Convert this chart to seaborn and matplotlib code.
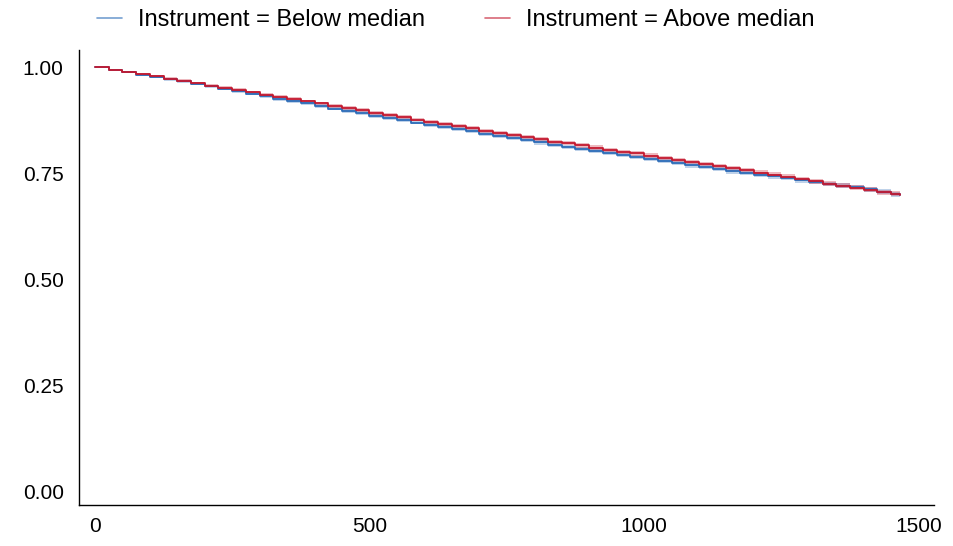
import numpy as np
import pandas as pd
import matplotlib
matplotlib.use("Agg")
import matplotlib.pyplot as plt
import seaborn as sns

# survival estimates (days, survival probability)
time = [0, 25, 50, 75, 100, 125, 150, 175, 200, 225, 250, 275, 300, 325, 350,
        375, 400, 425, 450, 475, 500, 525, 550, 575, 600, 625, 650, 675, 700, 725,
        750, 775, 800, 825, 850, 875, 900, 925, 950, 975, 1000, 1025, 1050, 1075,
        1100, 1125, 1150, 1175, 1200, 1225, 1250, 1275, 1300, 1325, 1350, 1375,
        1400, 1425, 1450, 1466]

surv_below = [1.000, 0.995, 0.989, 0.983, 0.978, 0.972, 0.967, 0.961, 0.955, 0.950,
              0.944, 0.938, 0.932, 0.926, 0.920, 0.915, 0.909, 0.903, 0.898, 0.892,
              0.886, 0.881, 0.876, 0.870, 0.865, 0.860, 0.854, 0.849, 0.844, 0.839,
              0.834, 0.829, 0.823, 0.818, 0.813, 0.808, 0.803, 0.798, 0.793, 0.789,
              0.784, 0.779, 0.774, 0.769, 0.765, 0.760, 0.755, 0.751, 0.747, 0.743,
              0.739, 0.734, 0.730, 0.725, 0.721, 0.718, 0.713, 0.707, 0.701, 0.699]

surv_above = [1.000, 0.995, 0.989, 0.984, 0.979, 0.973, 0.968, 0.963, 0.957, 0.952,
              0.947, 0.941, 0.936, 0.931, 0.925, 0.920, 0.915, 0.909, 0.904, 0.899,
              0.893, 0.888, 0.883, 0.877, 0.872, 0.867, 0.861, 0.856, 0.851, 0.846,
              0.840, 0.835, 0.830, 0.825, 0.821, 0.816, 0.811, 0.806, 0.801, 0.797,
              0.792, 0.787, 0.782, 0.777, 0.772, 0.767, 0.762, 0.757, 0.752, 0.747,
              0.742, 0.737, 0.731, 0.726, 0.721, 0.716, 0.711, 0.706, 0.702, 0.699]

# half width of the confidence band
band_half = [0.000, 0.002, 0.0025, 0.003, 0.0032, 0.0034, 0.0036, 0.0037, 0.0038, 0.0039,
             0.004, 0.004, 0.0041, 0.0041, 0.0042, 0.0042, 0.0043, 0.0043, 0.0044, 0.0044,
             0.0045, 0.0045, 0.0045, 0.0046, 0.0046, 0.0046, 0.0047, 0.0047, 0.0047, 0.0048,
             0.0048, 0.0048, 0.0049, 0.0049, 0.0049, 0.005, 0.005, 0.005, 0.005, 0.0051,
             0.0051, 0.0051, 0.0052, 0.0052, 0.0052, 0.0053, 0.0053, 0.0053, 0.0054, 0.0054,
             0.0055, 0.0055, 0.0056, 0.0056, 0.0057, 0.0058, 0.0058, 0.0059, 0.006, 0.006]

groups = ["Instrument = Below median", "Instrument = Above median"]
colors = ["#2b6cb8", "#c4182e"]

df = pd.concat([
    pd.DataFrame({"time": time, "surv": surv_below, "half": band_half, "strata": groups[0]}),
    pd.DataFrame({"time": time, "surv": surv_above, "half": band_half, "strata": groups[1]}),
])

sns.set_style("white")
plt.rcParams["font.family"] = ["Liberation Sans", "DejaVu Sans"]
plt.rcParams["text.color"] = "black"

fig = plt.figure(figsize=(9.54, 5.46), dpi=100)
ax = fig.add_axes([79 / 954, 41 / 546, 855 / 954, 455 / 546])

for g, c in zip(groups, colors):
    d = df[df["strata"] == g]
    ax.fill_between(d["time"], d["surv"] - d["half"], d["surv"] + d["half"],
                    step="post", color=c, alpha=0.3, linewidth=0)

sns.lineplot(data=df, x="time", y="surv", hue="strata", hue_order=groups,
             palette=colors, estimator=None, drawstyle="steps-post",
             linewidth=1.3, ax=ax, legend=False)

ax.set_xlim(-29, 1528)
ax.set_ylim(-0.032, 1.041)
ax.set_xticks([0, 500, 1000, 1500])
ax.set_yticks([0, 0.25, 0.5, 0.75, 1.0])
ax.set_yticklabels(["0.00", "0.25", "0.50", "0.75", "1.00"])
ax.set_xlabel("")
ax.set_ylabel("")
ax.tick_params(length=0, labelsize=15, colors="black")
ax.tick_params(axis="y", pad=11)
ax.tick_params(axis="x", pad=9)
sns.despine(ax=ax)
for s in ["left", "bottom"]:
    ax.spines[s].set_color("black")
    ax.spines[s].set_linewidth(1.0)

handles = [plt.Line2D([], [], color=c, linewidth=1.2, alpha=0.65) for c in colors]
leg = fig.legend(handles, groups, loc="center", bbox_to_anchor=(456 / 954, 1 - 20 / 546),
                 ncol=2, frameon=False, fontsize=17, handlelength=1.06,
                 handletextpad=0.68, columnspacing=2.54, borderaxespad=0, borderpad=0)
for t in leg.get_texts():
    t.set_color("black")

fig.savefig("out.png", dpi=100)
